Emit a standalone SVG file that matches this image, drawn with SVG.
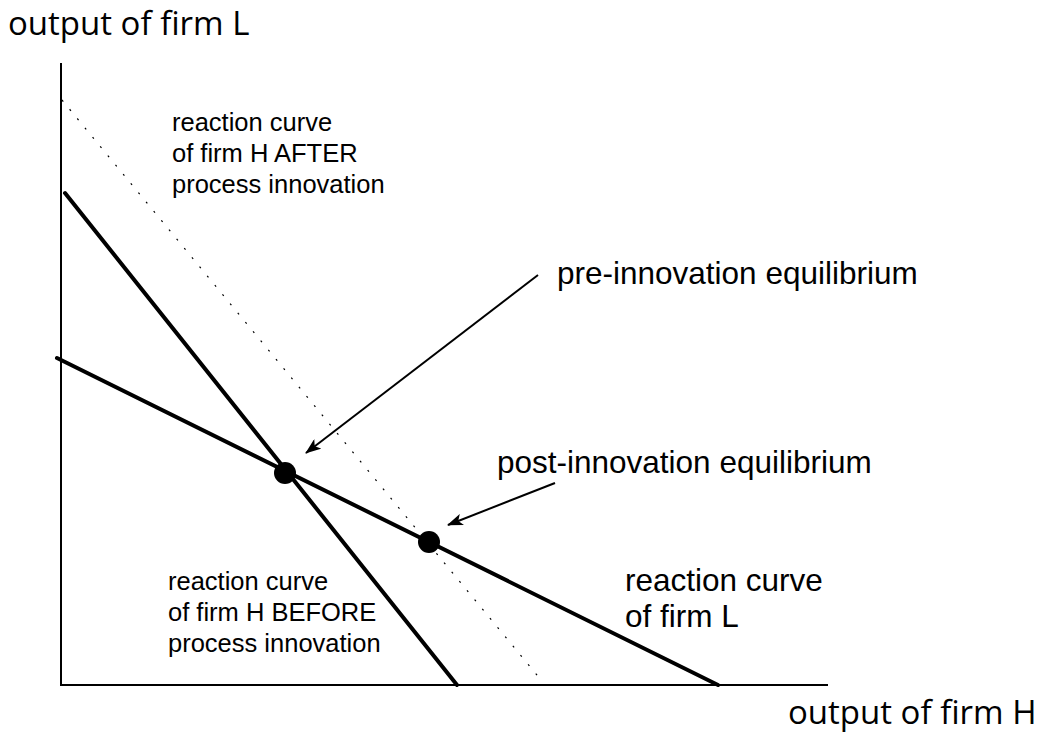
<svg xmlns="http://www.w3.org/2000/svg" width="1048" height="738" viewBox="0 0 1048 738">
  <style>
    text { font-family: "Liberation Sans", Arial, sans-serif; fill: #000; }
    .axis { font-family: "Open Sans", "DejaVu Sans", sans-serif; font-size: 33px; }
    .lbl { font-size: 31.5px; }
    .small { font-size: 25.5px; }
    .curve { stroke: #000; stroke-width: 4; stroke-linecap: round; fill: none; }
    .ax { stroke: #000; stroke-width: 2; fill: none; }
    .dot { stroke: #000; stroke-width: 1.2; stroke-dasharray: 2 10; fill: none; }
    .arr { stroke: #000; stroke-width: 2; fill: none; }
  </style>
  <defs>
    <marker id="head" viewBox="0 0 16 12" refX="15" refY="6" markerWidth="16" markerHeight="12" markerUnits="userSpaceOnUse" orient="auto">
      <path d="M0,0 L16,6 L0,12 L4,6 Z" fill="#000"/>
    </marker>
  </defs>

  <g id="axes">
    <line class="ax" x1="61" y1="63" x2="61" y2="685"/>
    <line class="ax" x1="60" y1="685" x2="828" y2="685"/>
    <text class="axis" x="8" y="35">output of firm L</text>
    <text class="axis" x="788" y="724">output of firm H</text>
  </g>

  <g id="curves">
    <line id="h-after" class="dot" x1="62" y1="100" x2="541" y2="680"/>
    <line id="h-before" class="curve" x1="65" y1="193" x2="457" y2="685"/>
    <line id="firm-l" class="curve" x1="57" y1="358" x2="718" y2="685"/>
  </g>

  <g id="equilibria">
    <circle id="pre-eq" cx="285" cy="473" r="11" fill="#000"/>
    <circle id="post-eq" cx="429" cy="542" r="11" fill="#000"/>
  </g>

  <g id="connectors">
    <line class="arr" x1="538" y1="275" x2="306" y2="453" marker-end="url(#head)"/>
    <line class="arr" x1="555" y1="483" x2="448" y2="525" marker-end="url(#head)"/>
  </g>

  <g id="labels">
    <text class="small" x="172" y="131">reaction curve</text>
    <text class="small" x="172" y="162">of firm H AFTER</text>
    <text class="small" x="172" y="193">process innovation</text>
    <text class="lbl" x="557" y="284">pre-innovation equilibrium</text>
    <text class="lbl" x="497" y="473">post-innovation equilibrium</text>
    <text class="lbl" x="625" y="591">reaction curve</text>
    <text class="lbl" x="625" y="627">of firm L</text>
    <text class="small" x="168" y="590">reaction curve</text>
    <text class="small" x="168" y="621">of firm H BEFORE</text>
    <text class="small" x="168" y="652">process innovation</text>
  </g>
</svg>
